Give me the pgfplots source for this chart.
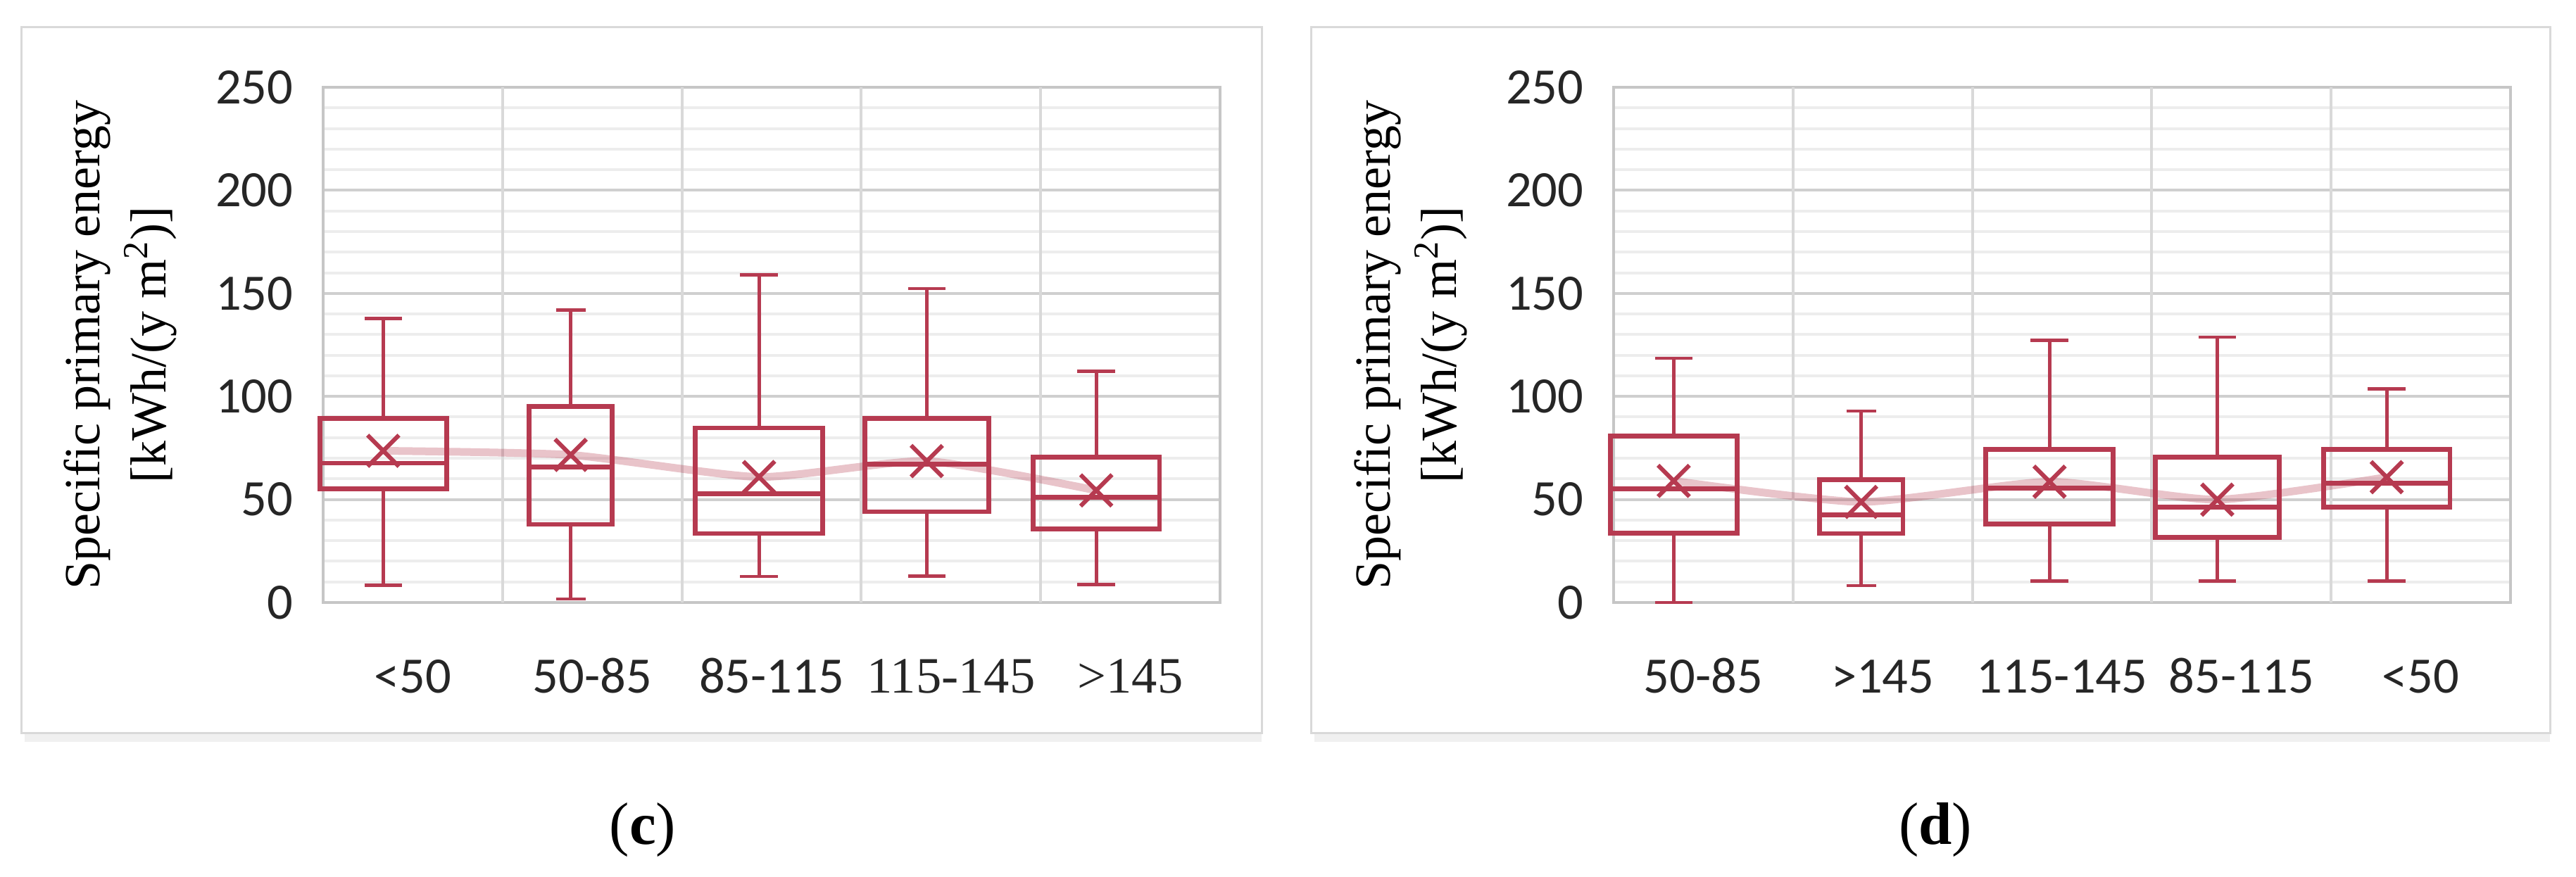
\documentclass[border=0pt]{standalone}
\usepackage{fontspec}
\setmainfont{Liberation Serif}
\newfontfamily\carlito{Carlito}
\usepackage{pgfplots}
\pgfplotsset{compat=1.18}
\usepgfplotslibrary{statistics}

\definecolor{boxred}{RGB}{182,58,80}

% one box: position, box width, cap width, lower whisker, Q1, median, Q3, upper whisker
\newcommand{\bx}[8]{\addplot[boxred, boxplot prepared={draw position=#1, box extend=#2,
  whisker extend=#3, lower whisker=#4, lower quartile=#5, median=#6,
  upper quartile=#7, upper whisker=#8}] coordinates {};}

\pgfplotsset{
  panel/.style={
    scale only axis, width=254.8pt, height=146.4pt, anchor=south west,
    xmin=0, xmax=5, ymin=0, ymax=250, clip=false,
    boxplot/draw direction=y,
    xtick={0.5,1.5,2.5,3.5,4.5},
    ytick={0,50,100,150,200,250}, minor y tick num=4,
    ymajorgrids, yminorgrids,
    major grid style={gray!38, line width=0.8pt},
    minor grid style={gray!14, line width=0.8pt},
    extra x ticks={1,2,3,4}, extra x tick labels={},
    extra x tick style={xmajorgrids, major grid style={gray!30, line width=0.8pt}},
    major tick length=0pt, minor tick length=0pt,
    axis line style={gray!45, line width=0.9pt},
    /pgf/number format/assume math mode=true,
    tick label style={font=\carlito\fontsize{14.5}{16}\selectfont, text=black!85},
    yticklabel style={xshift=-5pt},
    xticklabel style={anchor=base, yshift=-25.8pt},
    ylabel={Specific primary energy\\{}[kWh/(y m\textsuperscript{2})]},
    ylabel style={at={(axis description cs:-0.226,0.5)}, anchor=center,
      align=center, font=\fontsize{14.4}{18.8}\selectfont},
    boxplot/every box/.style={line width=1.35pt},
    boxplot/every median/.style={line width=1.35pt},
    boxplot/every whisker/.style={line width=0.95pt},
  },
  meanline/.style={boxred, opacity=0.3, line width=2.2pt, smooth, tension=0.35, mark=none},
  meanmark/.style={boxred, only marks, mark=x, mark size=6.3pt, mark options={line width=1.2pt}},
}

\begin{document}
\begin{tikzpicture}
\useasboundingbox (0,0) rectangle (731.8pt,249.2pt);

% panel frames
\draw[gray!12, line width=2.5pt] (7pt,39.6pt) -- (358.4pt,39.6pt);
\draw[gray!30, line width=0.6pt] (6pt,40.8pt) rectangle (358.4pt,241.4pt);
\draw[gray!12, line width=2.5pt] (373.4pt,39.6pt) -- (724.4pt,39.6pt);
\draw[gray!30, line width=0.6pt] (372.4pt,40.8pt) rectangle (724.4pt,241.4pt);

% (c)
\begin{axis}[panel, at={(91.8pt,78pt)},
  xticklabels={<50, 50-85, 85-115, {\rmfamily 115-145}, {\rmfamily >145}}]
\bx{0.335}{0.705}{0.21}{8.4}{55.2}{67.6}{89.2}{137.7}
\bx{1.38}{0.465}{0.165}{1.7}{37.9}{65.8}{95.1}{141.8}
\bx{2.43}{0.71}{0.21}{12.6}{33.5}{52.7}{84.7}{158.9}
\bx{3.365}{0.69}{0.21}{12.8}{44.1}{67.0}{89.2}{152.3}
\bx{4.31}{0.705}{0.21}{8.7}{35.7}{51.0}{70.4}{112.1}
\addplot[meanline] coordinates {(0.335,73.6) (1.38,71.6) (2.43,60.9) (3.365,68.6) (4.31,54.4)};
\addplot[meanmark] coordinates {(0.335,73.6) (1.38,71.6) (2.43,60.9) (3.365,68.6) (4.31,54.4)};
\end{axis}

% (d)
\begin{axis}[panel, at={(458.4pt,78pt)},
  xticklabels={50-85, >145, 115-145, 85-115, <50}]
\bx{0.335}{0.705}{0.21}{0}{33.6}{55.1}{80.7}{118.5}
\bx{1.38}{0.465}{0.165}{8.2}{33.5}{42.5}{59.5}{92.9}
\bx{2.43}{0.71}{0.21}{10.5}{38.0}{55.6}{74.3}{127.2}
\bx{3.365}{0.69}{0.21}{10.5}{31.6}{46.4}{70.4}{128.8}
\bx{4.31}{0.705}{0.21}{10.5}{46.4}{57.9}{74.3}{103.6}
\addplot[meanline] coordinates {(0.335,59.0) (1.38,48.8) (2.43,58.6) (3.365,49.9) (4.31,60.8)};
\addplot[meanmark] coordinates {(0.335,59.0) (1.38,48.8) (2.43,58.6) (3.365,49.9) (4.31,60.8)};
\end{axis}

\node[font=\fontsize{17}{20}\selectfont] at (182.6pt,13.4pt) {(\textbf{c})};
\node[font=\fontsize{17}{20}\selectfont] at (549.8pt,13.4pt) {(\textbf{d})};
\end{tikzpicture}
\end{document}
